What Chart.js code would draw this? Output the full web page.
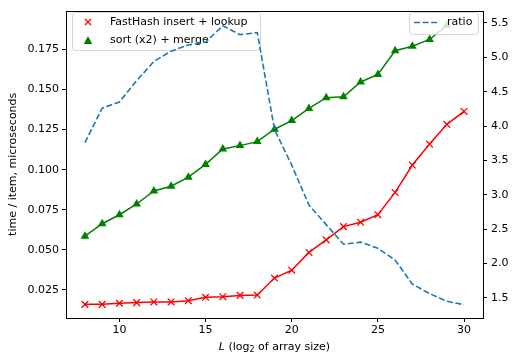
<!DOCTYPE html>
<html>
<head>
<meta charset="utf-8">
<style>
  html, body { margin: 0; padding: 0; background: #fff; }
  #wrap { width: 512px; height: 354px; }
</style>
</head>
<body>
<div id="wrap"><canvas id="chartId" width="512" height="354"></canvas></div>
<script src="https://cdn.jsdelivr.net/npm/chart.js"></script>
<script>
// data
const sizes = [8, 9, 10, 11, 12, 13, 14, 15, 16, 17, 18, 19, 20, 21, 22, 23, 24, 25, 26, 27, 28, 29, 30];
const fastHash = [0.0160, 0.0160, 0.0167, 0.0171, 0.0175, 0.0175, 0.0183, 0.0204, 0.0208, 0.0216, 0.0218,
                  0.0324, 0.0373, 0.0484, 0.0562, 0.0645, 0.0672, 0.0719, 0.0858, 0.1029, 0.1160, 0.1283, 0.1363];
const sortMerge = [0.0585, 0.0663, 0.0719, 0.0786, 0.0867, 0.0897, 0.0953, 0.1033, 0.1129, 0.1150, 0.1175,
                   0.1252, 0.1306, 0.1382, 0.1449, 0.1454, 0.1547, 0.1594, 0.1742, 0.1770, 0.1812, 0.1900, null];
const ratio = [3.76, 4.26, 4.35, 4.66, 4.94, 5.09, 5.18, 5.22, 5.46, 5.33, 5.36,
               3.95, 3.43, 2.85, 2.565, 2.28, 2.31, 2.22, 2.05, 1.70, 1.56, 1.45, 1.40];

const xTicks = [10, 15, 20, 25, 30];
const leftTicks = [0.025, 0.050, 0.075, 0.100, 0.125, 0.150, 0.175];
const rightTicks = [1.5, 2.0, 2.5, 3.0, 3.5, 4.0, 4.5, 5.0, 5.5];

const labelHash = 'FastHash insert + lookup';
const labelSort = 'sort (x2) + merge';
const labelRatio = 'ratio';

const FONT = 'DejaVu Sans';
const RED = '#ff0000', GREEN = '#008000', BLUE = '#1f77b4';

const toPts = ys => sizes.map((x, i) => ({ x: x, y: ys[i] }));

function roundRect(ctx, x, y, w, h, r) {
    ctx.beginPath();
    ctx.moveTo(x + r, y);
    ctx.lineTo(x + w - r, y);
    ctx.quadraticCurveTo(x + w, y, x + w, y + r);
    ctx.lineTo(x + w, y + h - r);
    ctx.quadraticCurveTo(x + w, y + h, x + w - r, y + h);
    ctx.lineTo(x + r, y + h);
    ctx.quadraticCurveTo(x, y + h, x, y + h - r);
    ctx.lineTo(x, y + r);
    ctx.quadraticCurveTo(x, y, x + r, y);
    ctx.closePath();
}

function legendFrame(ctx, x, y, w, h) {
    roundRect(ctx, x + 0.5, y + 0.5, w, h, 3);
    ctx.fillStyle = 'rgba(255,255,255,0.8)';
    ctx.fill();
    ctx.strokeStyle = 'rgba(204,204,204,0.8)';
    ctx.lineWidth = 1;
    ctx.stroke();
}

// legends, frame and x title like matplotlib
const decorPlugin = {
    id: 'decor',
    beforeDatasetDraw(chart, args) {
        // left legend sits between the left-axis lines and the ratio line
        if (args.meta.yAxisID !== 'y2') return;
        const ctx = chart.ctx;
        ctx.save();
        legendFrame(ctx, 72, 12, 188, 38);
        ctx.strokeStyle = RED;
        ctx.lineWidth = 1.3;
        ctx.beginPath();
        ctx.moveTo(85, 19); ctx.lineTo(91, 25);
        ctx.moveTo(91, 19); ctx.lineTo(85, 25);
        ctx.stroke();
        ctx.fillStyle = GREEN;
        ctx.beginPath();
        ctx.moveTo(88, 36); ctx.lineTo(92.2, 44); ctx.lineTo(83.8, 44);
        ctx.closePath();
        ctx.fill();
        ctx.fillStyle = '#000';
        ctx.font = '11px "' + FONT + '"';
        ctx.textBaseline = 'middle';
        ctx.fillText(labelHash, 110, 22.5);
        ctx.fillText(labelSort, 110, 40.5);
        ctx.restore();
    },
    afterDatasetsDraw(chart) {
        const ctx = chart.ctx;
        const a = chart.chartArea;
        ctx.save();
        legendFrame(ctx, 409, 12, 69, 22);
        ctx.strokeStyle = BLUE;
        ctx.lineWidth = 1.6;
        ctx.setLineDash([6, 2.6]);
        ctx.beginPath();
        ctx.moveTo(414, 22.5); ctx.lineTo(438, 22.5);
        ctx.stroke();
        ctx.setLineDash([]);
        ctx.fillStyle = '#000';
        ctx.font = '11px "' + FONT + '"';
        ctx.textBaseline = 'middle';
        ctx.fillText(labelRatio, 447, 22.5);

        // axes frame
        ctx.strokeStyle = '#000';
        ctx.lineWidth = 1;
        ctx.strokeRect(Math.round(a.left) + 0.5, Math.round(a.top) + 0.5,
                       Math.round(a.right - a.left), Math.round(a.bottom - a.top));

        // x title: italic L, subscript 2
        const parts = [
            { t: 'L', f: 'italic 11px "' + FONT + '"', dy: 0 },
            { t: ' (log', f: '11px "' + FONT + '"', dy: 0 },
            { t: '2', f: '8px "' + FONT + '"', dy: 3 },
            { t: ' of array size)', f: '11px "' + FONT + '"', dy: 0 }
        ];
        let total = 0;
        parts.forEach(p => { ctx.font = p.f; p.w = ctx.measureText(p.t).width; total += p.w; });
        let x = (a.left + a.right) / 2 - total / 2;
        ctx.textBaseline = 'middle';
        parts.forEach(p => {
            ctx.font = p.f;
            ctx.fillText(p.t, x, 347 + p.dy);
            x += p.w;
        });
        ctx.restore();
    }
};

const tickFont = { family: FONT, size: 11 };

new Chart(document.getElementById('chartId'), {
    type: 'line',
    data: {
        datasets: [
            {
                label: labelHash,
                data: toPts(fastHash),
                yAxisID: 'y',
                borderColor: RED,
                backgroundColor: RED,
                borderWidth: 1.5,
                pointStyle: 'crossRot',
                pointRadius: 4.7,
                pointBorderWidth: 1.3,
                pointBorderColor: RED,
                order: 3
            },
            {
                label: labelSort,
                data: toPts(sortMerge),
                yAxisID: 'y',
                borderColor: GREEN,
                backgroundColor: GREEN,
                borderWidth: 1.5,
                pointStyle: 'triangle',
                pointRadius: 5,
                pointBorderWidth: 0,
                order: 2
            },
            {
                label: labelRatio,
                data: toPts(ratio),
                yAxisID: 'y2',
                borderColor: BLUE,
                borderWidth: 1.6,
                borderDash: [6, 2.6],
                pointRadius: 0,
                order: 1
            }
        ]
    },
    options: {
        responsive: false,
        animation: false,
        events: [],
        layout: { padding: { top: 7, left: 0, right: 0, bottom: 0 } },
        plugins: { legend: { display: false }, tooltip: { enabled: false } },
        scales: {
            x: {
                type: 'linear',
                min: 6.9,
                max: 31.1,
                afterBuildTicks: s => { s.ticks = xTicks.map(v => ({ value: v })); },
                afterFit: s => { s.height = 36; },
                ticks: { font: tickFont, color: '#000', padding: 2, maxRotation: 0,
                         callback: v => String(v) },
                grid: { drawOnChartArea: false, color: '#000', tickLength: 4 },
                border: { display: false }
            },
            y: {
                position: 'left',
                min: 0.0075,
                max: 0.1992,
                afterBuildTicks: s => { s.ticks = leftTicks.map(v => ({ value: v })); },
                afterFit: s => { s.width = 66; },
                ticks: { font: tickFont, color: '#000', padding: 3,
                         callback: v => v.toFixed(3) },
                grid: { drawOnChartArea: false, color: '#000', tickLength: 4 },
                border: { display: false },
                title: { display: true, text: 'time / item, microseconds',
                         font: tickFont, color: '#000', padding: { top: 7, bottom: 0 } }
            },
            y2: {
                position: 'right',
                min: 1.206,
                max: 5.68,
                afterBuildTicks: s => { s.ticks = rightTicks.map(v => ({ value: v })); },
                afterFit: s => { s.width = 29; },
                ticks: { font: tickFont, color: '#000', padding: 4,
                         callback: v => v.toFixed(1) },
                grid: { drawOnChartArea: false, color: '#000', tickLength: 4 },
                border: { display: false }
            }
        }
    },
    plugins: [decorPlugin]
});
</script>
</body>
</html>
